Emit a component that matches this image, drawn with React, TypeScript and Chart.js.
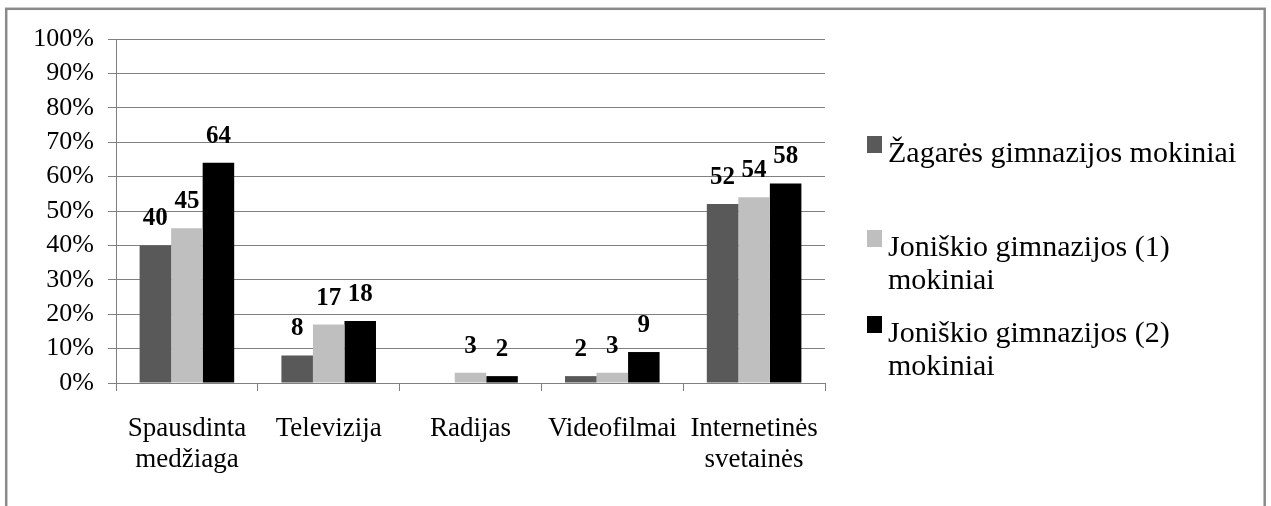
import React, { useEffect, useRef } from "react";
import { Chart, registerables } from "chart.js";

Chart.register(...registerables);

const CATEGORIES: (string | string[])[] = [
  ["Spausdinta", "medžiaga"],
  "Televizija",
  "Radijas",
  "Videofilmai",
  ["Internetinės", "svetainės"],
];

const SERIES_NAMES = [
  "Žagarės gimnazijos mokiniai",
  "Joniškio gimnazijos (1) mokiniai",
  "Joniškio gimnazijos (2) mokiniai",
];

const ZAGARE = [40, 8, 0, 2, 52];
const JONISKIS_1 = [45, 17, 3, 3, 54];
const JONISKIS_2 = [64, 18, 2, 9, 58];

const COLORS = ["#595959", "#bfbfbf", "#000000"];

const Y_MIN = 0;
const Y_MAX = 100;
const Y_STEP = 10;

const FONT = "'Liberation Serif', 'Times New Roman', serif";

const framePlugin = {
  id: "frame",
  beforeDraw(chart: any) {
    const ctx = chart.ctx;
    ctx.save();
    ctx.fillStyle = "#ffffff";
    ctx.fillRect(0, 0, chart.width, chart.height);
    ctx.strokeStyle = "#8a8a8a";
    ctx.lineWidth = 2.5;
    ctx.strokeRect(6.2, 8.8, 1264.7 - 6.2, 700);
    ctx.restore();
  },
};

const dataLabelPlugin = {
  id: "dataLabels",
  afterDatasetsDraw(chart: any) {
    const ctx = chart.ctx;
    ctx.save();
    ctx.font = `bold 25px ${FONT}`;
    ctx.fillStyle = "#000";
    ctx.textAlign = "center";
    ctx.textBaseline = "alphabetic";
    chart.data.datasets.forEach((ds: any, di: number) => {
      const meta = chart.getDatasetMeta(di);
      meta.data.forEach((bar: any, i: number) => {
        const v = ds.data[i];
        if (!v) return;
        ctx.fillText(String(v), bar.x, bar.y - 20);
      });
    });
    ctx.restore();
  },
};

const legendPlugin = {
  id: "customLegend",
  afterDraw(chart: any) {
    const ctx = chart.ctx;
    ctx.save();
    ctx.font = `30px ${FONT}`;
    ctx.fillStyle = "#000";
    ctx.textAlign = "left";
    ctx.textBaseline = "alphabetic";
    const textX = 888;
    const markerX = 867;
    const maxW = 372;
    const lineH = 33;
    const firstBaselines = [162, 256, 342];
    chart.data.datasets.forEach((ds: any, di: number) => {
      const words = String(ds.label).split(" ");
      const lines: string[] = [];
      let cur = "";
      words.forEach((w) => {
        const t = cur ? cur + " " + w : w;
        if (ctx.measureText(t).width > maxW && cur) {
          lines.push(cur);
          cur = w;
        } else cur = t;
      });
      if (cur) lines.push(cur);
      const b = firstBaselines[di];
      ctx.fillStyle = ds.backgroundColor;
      ctx.fillRect(markerX, b - 26, 15, 17);
      ctx.fillStyle = "#000";
      lines.forEach((ln, li) => ctx.fillText(ln, textX, b + li * lineH));
    });
    ctx.restore();
  },
};

export default function App() {
  const ref = useRef<HTMLCanvasElement | null>(null);
  useEffect(() => {
    if (!ref.current) return;
    const chart = new Chart(ref.current, {
      type: "bar",
      data: {
        labels: CATEGORIES as any,
        datasets: [
          { label: SERIES_NAMES[0], data: ZAGARE, backgroundColor: COLORS[0] },
          { label: SERIES_NAMES[1], data: JONISKIS_1, backgroundColor: COLORS[1] },
          { label: SERIES_NAMES[2], data: JONISKIS_2, backgroundColor: COLORS[2] },
        ],
      },
      options: {
        responsive: false,
        animation: false,
        layout: { padding: { left: 0, top: 39, right: 446, bottom: 0 } },
        plugins: {
          legend: { display: false },
          tooltip: { enabled: false },
        },
        datasets: {
          bar: { categoryPercentage: 0.667, barPercentage: 1 },
        } as any,
        scales: {
          x: {
            offset: true,
            grid: {
              display: true,
              drawOnChartArea: false,
              drawTicks: true,
              tickLength: 8,
              color: "#808080",
              offset: true,
            },
            border: { display: true, color: "#808080", width: 1 },
            ticks: {
              color: "#000",
              font: { family: FONT, size: 27, lineHeight: 1.15 },
              maxRotation: 0,
              autoSkip: false,
              padding: 22,
            },
            afterFit(s: any) {
              s.height = 123;
            },
          },
          y: {
            min: Y_MIN,
            max: Y_MAX,
            ticks: {
              stepSize: Y_STEP,
              color: "#000",
              font: { family: FONT, size: 26 },
              padding: 14,
              callback: (v: any) => `${v}%`,
            },
            grid: {
              color: "#808080",
              lineWidth: 1,
              drawTicks: true,
              tickLength: 8,
            },
            border: { display: true, color: "#808080", width: 1 },
            afterFit(s: any) {
              s.width = 116;
            },
          },
        },
      },
      plugins: [framePlugin, dataLabelPlugin, legendPlugin],
    });
    return () => chart.destroy();
  }, []);
  return (
    <div style={{ position: "absolute", left: 0, top: 0, width: 1271, height: 506 }}>
      <canvas ref={ref} width={1271} height={506} />
    </div>
  );
}
